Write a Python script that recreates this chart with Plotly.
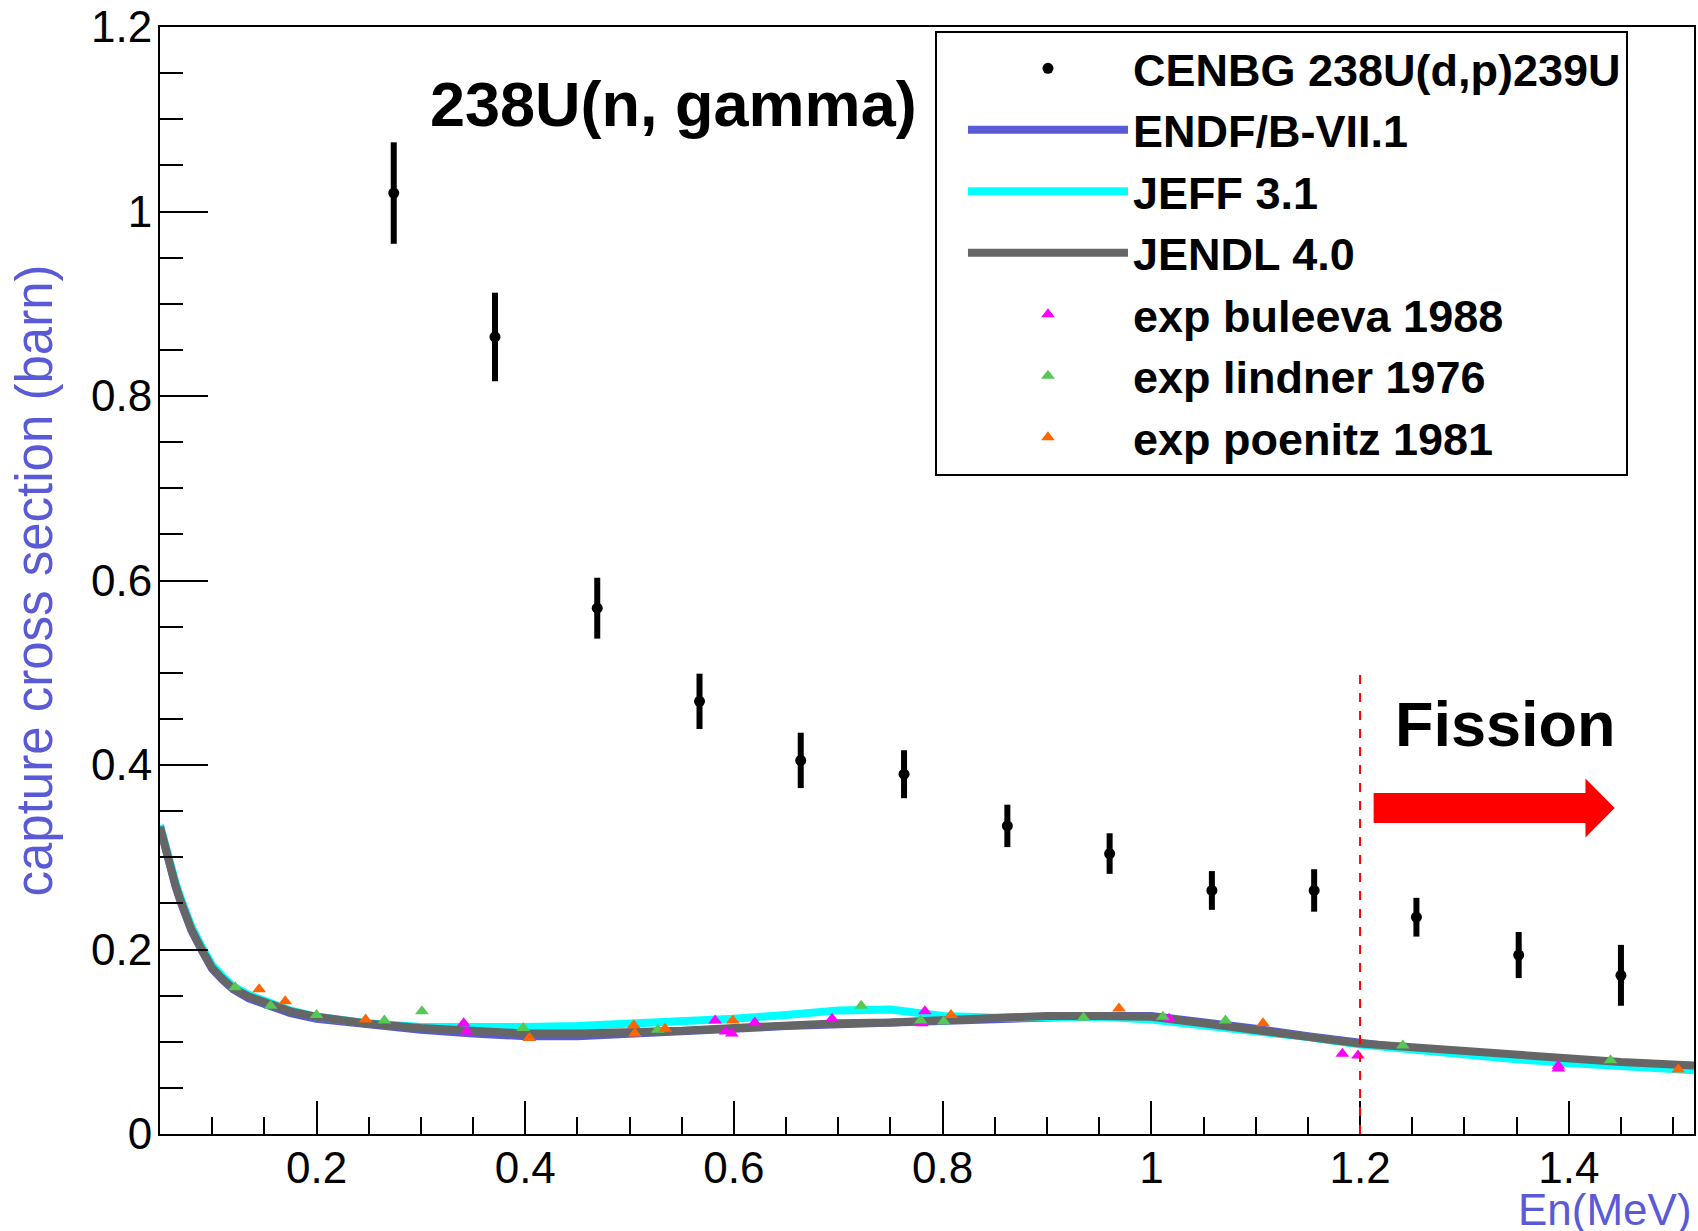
import plotly.graph_objects as go

# ---------------- data ----------------
# CENBG 238U(d,p)239U surrogate capture cross section
cenbg_x = [0.274, 0.371, 0.469, 0.567, 0.664, 0.763, 0.862, 0.960, 1.058, 1.156, 1.254, 1.352, 1.450]
cenbg_y = [1.020, 0.864, 0.570, 0.469, 0.405, 0.390, 0.334, 0.304, 0.264, 0.264, 0.235, 0.194, 0.172]
cenbg_err = [0.055, 0.048, 0.033, 0.030, 0.030, 0.026, 0.023, 0.022, 0.021, 0.023, 0.021, 0.025, 0.033]

# evaluated libraries
eval_x = [0.05, 0.055, 0.06, 0.065, 0.07, 0.075, 0.08, 0.09, 0.10, 0.11, 0.12, 0.135, 0.15,
          0.175, 0.20, 0.25, 0.30, 0.35, 0.40, 0.45, 0.50, 0.55, 0.60, 0.65, 0.70, 0.75, 0.80,
          0.85, 0.90, 0.95, 1.00, 1.05, 1.10, 1.15, 1.20, 1.25, 1.30, 1.35, 1.40, 1.45, 1.52]
endf_y = [0.333, 0.309, 0.288, 0.268, 0.251, 0.235, 0.221, 0.199, 0.179, 0.167, 0.157, 0.147,
          0.141, 0.131, 0.125, 0.118, 0.113, 0.109, 0.106, 0.106, 0.108, 0.111, 0.114, 0.117,
          0.119, 0.120, 0.122, 0.125, 0.127, 0.128, 0.128, 0.122, 0.114, 0.106, 0.098, 0.092,
          0.088, 0.083, 0.079, 0.075, 0.071]
jeff_y = [0.335, 0.312, 0.292, 0.272, 0.255, 0.239, 0.225, 0.203, 0.183, 0.171, 0.160, 0.151,
          0.145, 0.134, 0.127, 0.120, 0.116, 0.115, 0.116, 0.117, 0.119, 0.122, 0.125, 0.129,
          0.134, 0.135, 0.128, 0.126, 0.127, 0.127, 0.124, 0.118, 0.112, 0.105, 0.097, 0.091,
          0.086, 0.081, 0.077, 0.073, 0.069]
jendl_y = [0.333, 0.310, 0.289, 0.269, 0.252, 0.236, 0.222, 0.200, 0.180, 0.168, 0.158, 0.149,
           0.143, 0.133, 0.127, 0.1195, 0.115, 0.111, 0.109, 0.109, 0.110, 0.112, 0.115, 0.118,
           0.120, 0.121, 0.123, 0.127, 0.128, 0.128, 0.127, 0.120, 0.112, 0.105, 0.098, 0.094,
           0.090, 0.0855, 0.081, 0.078, 0.0742]

# experimental data
buleeva_x = [0.341, 0.344, 0.582, 0.592, 0.598, 0.620, 0.694, 0.780, 0.783, 1.017, 1.183, 1.198, 1.390, 1.390]
buleeva_y = [0.120, 0.111, 0.123, 0.111, 0.109, 0.121, 0.125, 0.120, 0.133, 0.125, 0.087, 0.085, 0.074, 0.071]
lindner_x = [0.122, 0.156, 0.200, 0.265, 0.301, 0.398, 0.527, 0.722, 0.779, 0.801, 0.935, 1.011, 1.071, 1.241, 1.440]
lindner_y = [0.159, 0.139, 0.129, 0.123, 0.133, 0.115, 0.113, 0.139, 0.123, 0.122, 0.126, 0.127, 0.123, 0.096, 0.080]
poenitz_x = [0.145, 0.170, 0.247, 0.404, 0.504, 0.505, 0.534, 0.599, 0.808, 0.969, 1.107, 1.505]
poenitz_y = [0.157, 0.144, 0.124, 0.104, 0.118, 0.109, 0.114, 0.123, 0.129, 0.136, 0.120, 0.070]

# annotations / markers of the regions
FISSION_THRESHOLD = 1.2
THRESHOLD_LINE_TOP = 0.5
ARROW_X0, ARROW_XHEAD, ARROW_XTIP = 1.213, 1.416, 1.444
ARROW_YC, ARROW_SHAFT_HALF, ARROW_HEAD_HALF = 0.3534, 0.0163, 0.032

X_RANGE = [0.05, 1.52]
Y_RANGE = [0.0, 1.2]

# ---------------- style ----------------
BLUE = "#5a5ad6"
CYAN = "#00ffff"
GRAY = "#666666"
MAGENTA = "#ff00ff"
GREEN = "#55c855"
ORANGE = "#ff6600"
FONT = "Liberation Sans, Arial, sans-serif"

fig = go.Figure()

fig.add_trace(go.Scatter(x=eval_x, y=endf_y, mode="lines", name="ENDF/B-VII.1",
                         line=dict(color=BLUE, width=8), legendrank=2))
fig.add_trace(go.Scatter(x=eval_x, y=jeff_y, mode="lines", name="JEFF 3.1",
                         line=dict(color=CYAN, width=8), legendrank=3))
fig.add_trace(go.Scatter(x=eval_x, y=jendl_y, mode="lines", name="JENDL 4.0",
                         line=dict(color=GRAY, width=8), legendrank=4))
fig.add_trace(go.Scatter(x=buleeva_x, y=buleeva_y, mode="markers", name="exp buleeva 1988",
                         marker=dict(symbol="triangle-up", color=MAGENTA, size=12),
                         legendrank=5))
fig.add_trace(go.Scatter(x=lindner_x, y=lindner_y, mode="markers", name="exp lindner 1976",
                         marker=dict(symbol="triangle-up", color=GREEN, size=12),
                         legendrank=6))
fig.add_trace(go.Scatter(x=poenitz_x, y=poenitz_y, mode="markers", name="exp poenitz 1981",
                         marker=dict(symbol="triangle-up", color=ORANGE, size=12),
                         legendrank=7))
fig.add_trace(go.Scatter(x=cenbg_x, y=cenbg_y, mode="markers", name="CENBG 238U(d,p)239U",
                         marker=dict(symbol="circle", color="black", size=11),
                         error_y=dict(type="data", array=cenbg_err, color="black",
                                      thickness=6, width=0),
                         legendrank=1))

# fission threshold dashed line
fig.add_shape(type="line", x0=FISSION_THRESHOLD, x1=FISSION_THRESHOLD, y0=0,
              y1=THRESHOLD_LINE_TOP, xref="x", yref="y",
              line=dict(color="red", width=2, dash="dash"))

# red block arrow
yc, hs, hh = ARROW_YC, ARROW_SHAFT_HALF, ARROW_HEAD_HALF
arrow_path = (f"M {ARROW_X0},{yc - hs} L {ARROW_XHEAD},{yc - hs} L {ARROW_XHEAD},{yc - hh} "
              f"L {ARROW_XTIP},{yc} L {ARROW_XHEAD},{yc + hh} L {ARROW_XHEAD},{yc + hs} "
              f"L {ARROW_X0},{yc + hs} Z")
fig.add_shape(type="path", path=arrow_path, xref="x", yref="y",
              fillcolor="red", line=dict(color="red", width=0))

fig.add_annotation(x=0.542, y=1.116, xref="x", yref="y", text="<b>238U(n, gamma)</b>",
                   showarrow=False, font=dict(family=FONT, size=63, color="black"),
                   xanchor="center", yanchor="middle")
fig.add_annotation(x=1.339, y=0.444, xref="x", yref="y", text="<b>Fission</b>",
                   showarrow=False, font=dict(family=FONT, size=63, color="black"),
                   xanchor="center", yanchor="middle")
fig.add_annotation(x=1.0, y=-0.068, xref="paper", yref="paper", text="En(MeV)",
                   showarrow=False, font=dict(family=FONT, size=44, color=BLUE),
                   xanchor="right", yanchor="middle")

fig.update_layout(
    width=1698, height=1231,
    margin=dict(l=160, r=2, t=27, b=97),
    paper_bgcolor="white", plot_bgcolor="white",
    font=dict(family=FONT, color="black"),
    showlegend=True,
    legend=dict(x=0.5052, y=0.9968, xanchor="left", yanchor="top",
                bgcolor="white", bordercolor="black", borderwidth=2,
                font=dict(family=FONT, size=45, color="black", weight="bold"),
                itemwidth=160, indentation=26,
                traceorder="normal"),
)

fig.update_xaxes(range=X_RANGE, showgrid=False, zeroline=False,
                 showline=True, linecolor="black", linewidth=2, mirror=True,
                 ticks="inside", ticklen=33, tickwidth=1.5, tickcolor="black",
                 tick0=0, dtick=0.2, tickformat="~g",
                 tickfont=dict(family=FONT, size=44, color="black"),
                 ticklabelstandoff=-6,
                 minor=dict(ticks="inside", ticklen=17, tickwidth=1.5, tickcolor="black",
                            dtick=0.05, tick0=0, showgrid=False))
fig.update_yaxes(range=Y_RANGE, showgrid=False, zeroline=False,
                 showline=True, linecolor="black", linewidth=2, mirror=True,
                 ticks="inside", ticklen=48, tickwidth=1.5, tickcolor="black",
                 tick0=0, dtick=0.2, tickformat="~g",
                 tickfont=dict(family=FONT, size=44, color="black"),
                 ticklabelstandoff=-3,
                 minor=dict(ticks="inside", ticklen=23, tickwidth=1.5, tickcolor="black",
                            dtick=0.05, tick0=0, showgrid=False),
                 title=dict(text="capture cross section (barn)",
                            font=dict(family=FONT, size=51, color=BLUE), standoff=22))

fig.write_html("out.html")
